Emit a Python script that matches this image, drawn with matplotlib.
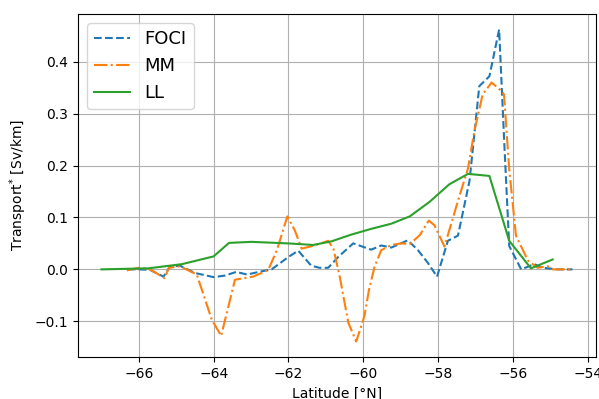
import numpy as np
import matplotlib
matplotlib.use("Agg")
import matplotlib.pyplot as plt

# transport profiles
lat_foci = [-66.3, -66.0, -65.7, -65.34, -65.17, -64.9, -64.5, -64.0, -63.7, -63.4, -63.1,
            -62.8, -62.45, -62.0, -61.74, -61.39, -61.17, -60.94, -60.67, -60.27, -59.79,
            -59.52, -59.25, -58.81, -58.54, -58.27, -58.03, -57.74, -57.47, -57.16, -56.9,
            -56.63, -56.37, -56.23, -56.1, -55.78, -55.43, -55.2, -54.8, -54.41]
foci = [0.0, 0.0, -0.001, -0.014, 0.005, 0.007, -0.007, -0.015, -0.012, -0.005, -0.01,
        -0.005, 0.0, 0.024, 0.036, 0.007, 0.003, 0.003, 0.024, 0.05, 0.038,
        0.046, 0.042, 0.056, 0.037, 0.012, -0.014, 0.055, 0.065, 0.171, 0.353,
        0.372, 0.462, 0.24, 0.045, 0.0, 0.01, 0.003, 0.0, 0.0]

lat_mm = [-66.32, -66.0, -65.7, -65.31, -65.2, -64.9, -64.45, -64.05, -63.8, -63.43, -63.2,
          -62.94, -62.54, -62.31, -62.03, -61.83, -61.65, -61.3, -60.94, -60.8, -60.63,
          -60.4, -60.19, -59.97, -59.85, -59.7, -59.52, -59.25, -58.98, -58.75, -58.49,
          -58.25, -58.1, -57.83, -57.47, -57.2, -57.03, -56.81, -56.57, -56.3, -56.24,
          -56.1, -55.92, -55.6, -55.34, -55.07, -54.94, -54.45]
mm = [-0.002, 0.003, 0.0, -0.017, 0.003, 0.006, -0.01, -0.097, -0.128, -0.02, -0.017,
      -0.014, -0.001, 0.037, 0.102, 0.075, 0.04, 0.046, 0.055, 0.04, -0.014,
      -0.103, -0.139, -0.09, -0.04, 0.005, 0.037, 0.047, 0.05, 0.049, 0.066,
      0.094, 0.085, 0.044, 0.132, 0.195, 0.267, 0.337, 0.36, 0.343, 0.337,
      0.193, 0.065, 0.017, 0.003, 0.006, 0.0, 0.0]

lat_ll = [-67.0, -65.74, -64.85, -64.0, -63.59, -62.99, -62.0, -61.34, -60.85, -60.32,
          -59.79, -59.25, -58.76, -58.23, -57.7, -57.2, -56.63, -56.1, -55.52, -54.94]
ll = [0.0, 0.002, 0.01, 0.025, 0.051, 0.053, 0.05, 0.047, 0.054, 0.067,
      0.078, 0.088, 0.102, 0.13, 0.164, 0.184, 0.18, 0.055, 0.002, 0.019]

fig, ax = plt.subplots(figsize=(5.99, 3.99), dpi=100)
fig.subplots_adjust(left=0.130, right=0.995, top=0.965, bottom=0.105)

ax.plot(lat_foci, foci, '--', label='FOCI')
ax.plot(lat_mm, mm, '-.', label='MM')
ax.plot(lat_ll, ll, '-', label='LL')

ax.set_xlabel('Latitude [°N]')
ax.set_ylabel('Transport$^{*}$ [Sv/km]')
ax.grid(True)
ax.legend(loc='upper left', fontsize=13)

fig.savefig('out.png', dpi=100)
